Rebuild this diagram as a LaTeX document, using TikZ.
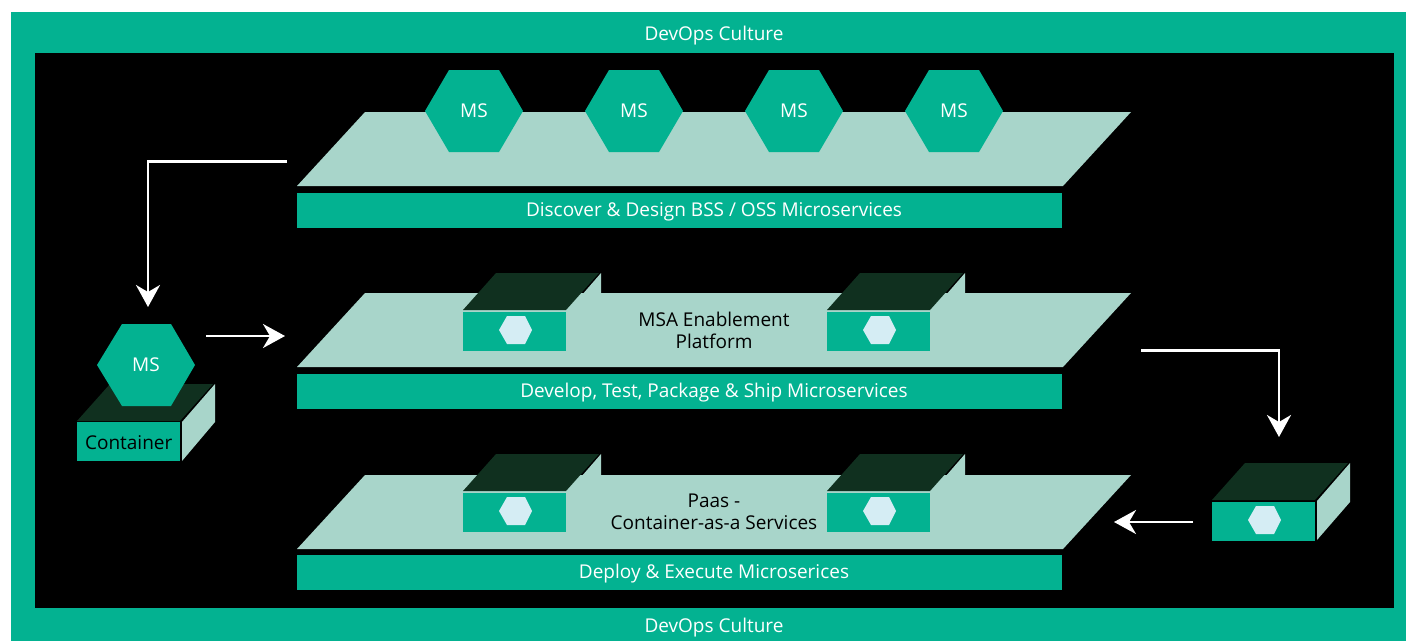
\documentclass[tikz,border=0pt]{standalone}
\usepackage{fontspec}
\setmainfont{Open Sans}
\usetikzlibrary{arrows.meta}
\definecolor{devgreen}{HTML}{03B291}
\definecolor{devlight}{HTML}{A8D5CA}
\definecolor{devdark}{HTML}{10301F}
\definecolor{device}{HTML}{D5EDF4}
\tikzset{
  label/.style={font=\fontsize{19}{22}\selectfont,text=white,inner sep=0pt,align=center,text height=14pt,text depth=3pt},
  darklabel/.style={label,text=black},
  barbox/.style={fill=devgreen,minimum width=765pt,minimum height=35pt,inner sep=0pt,anchor=north west},
  flow/.style={draw=white,line width=2.4pt,-{Stealth[length=22pt,width=24pt,inset=7pt]}}
}
\begin{document}
\begin{tikzpicture}[x=1pt,y=-1pt]
  \useasboundingbox (0,0) rectangle (1406,641);
  \fill[devgreen] (11,12) rectangle (1406,641);
  \fill[black] (35,53) rectangle (1394,608);
  \node[label] (top culture) at (714,34.5) {DevOps Culture};
  \node[label] (bottom culture) at (714,626.5) {DevOps Culture};
  % platforms with their bars
  \foreach \y/\b/\name/\txt in {0/193/discover/{Discover \& Design BSS / OSS Microservices},
      181/374/develop/{Develop, Test, Package \& Ship Microservices},
      363/555/deploy/{Deploy \& Execute Microserices}} {
    \fill[devlight] (297,186+\y) -- (1063,186+\y) -- (1131,112+\y) -- (365,112+\y) -- cycle;
    \node[barbox] (\name bar) at (297,\b) {};
    \node[label] (\name) at (714,\b+17.5) {\txt};
  }
  % hexagons on the top platform
  \foreach \x/\n in {474/1,634/2,794/3,954/4} {
    \fill[devgreen] (\x-49,111) -- (\x-25,70) -- (\x+25,70) -- (\x+49,111) -- (\x+25,152) -- (\x-25,152) -- cycle;
    \node[label] (ms\n) at (\x,112) {MS};
  }
  % containers
  \foreach \x/\y in {463/312,827/312,463/493,827/493,1212/502} {
    \fill[devlight] (\x+105,\y-1) -- (\x+138,\y-39) -- (\x+138,\y) -- (\x+105,\y+38) -- cycle;
    \fill[devdark] (\x,\y-2) -- (\x+33,\y-39) -- (\x+136,\y-39) -- (\x+103,\y-2) -- cycle;
    \fill[devgreen] (\x,\y) rectangle (\x+103,\y+39);
    \fill[device] (\x+36,\y+18) -- (\x+44,\y+4) -- (\x+62,\y+4) -- (\x+69,\y+18) -- (\x+62,\y+32) -- (\x+44,\y+32) -- cycle;
  }
  % container on the left
  \fill[devlight] (182,422) -- (215,384) -- (215,422) -- (182,461) -- cycle;
  \fill[devdark] (77,421) -- (110,384) -- (213,384) -- (180,421) -- cycle;
  \node[barbox,darklabel,minimum width=103pt,minimum height=39pt,text height=15pt,text depth=0pt] (container) at (77,422) {Container};
  \fill[devgreen] (97,365) -- (122,324) -- (171,324) -- (195,365) -- (171,406) -- (122,406) -- cycle;
  \node[label] (ms left) at (146,365.5) {MS};
  \node[darklabel] (msa) at (714,342.5) {MSA Enablement\\Platform};
  \node[darklabel] (paas) at (714,523.5) {Paas -\\Container-as-a Services};
  % arrows
  \coordinate (a1) at (287,161.5);
  \coordinate (a2) at (148,307);
  \coordinate (b1) at (206,336);
  \coordinate (b2) at (285,336);
  \coordinate (c1) at (1141,350.5);
  \coordinate (c2) at (1279,437);
  \coordinate (d1) at (1193,522);
  \coordinate (d2) at (1114,522);
  \draw[flow] (a1) -| (a2);
  \draw[flow] (b1) -- (b2);
  \draw[flow] (c1) -| (c2);
  \draw[flow] (d1) -- (d2);
\end{tikzpicture}
\end{document}
